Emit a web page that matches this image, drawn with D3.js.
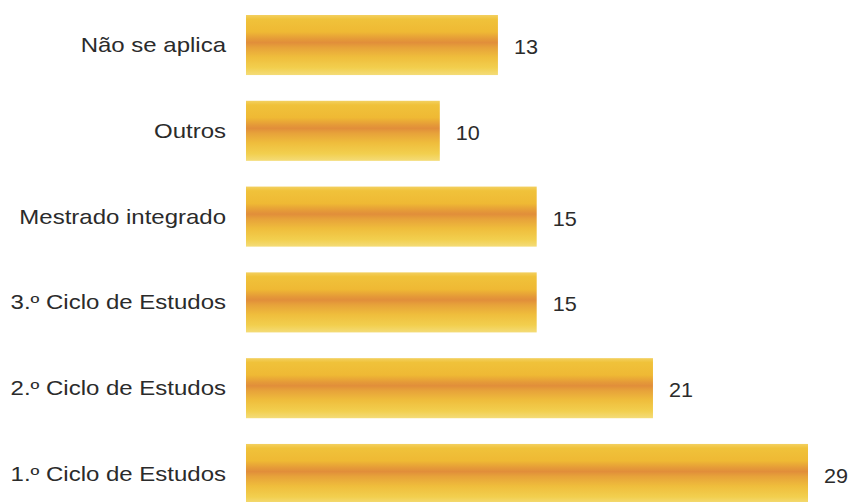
<!DOCTYPE html>
<html>
<head>
<meta charset="utf-8">
<script src="https://cdn.jsdelivr.net/npm/d3@7"></script>
<style>
  html, body { margin: 0; padding: 0; background: #fff; }
  svg { display: block; }
  text { font-family: Arial, "Liberation Sans", sans-serif; fill: #2b2b2b; }
</style>
</head>
<body>
<svg id="chart" width="852" height="502"></svg>
<script>
const categories = [
  "Não se aplica",
  "Outros",
  "Mestrado integrado",
  "3.º Ciclo de Estudos",
  "2.º Ciclo de Estudos",
  "1.º Ciclo de Estudos"
];
const values = [13, 10, 15, 15, 21, 29];

const svg = d3.select("#chart");

const x = d3.scaleLinear().domain([0, 29]).range([246, 808]);
const y = d3.scaleBand().domain(categories).range([15, 504]).paddingInner(0.3).paddingOuter(0);

// vertical gradient: yellow edges with an orange band slightly above the middle
const defs = svg.append("defs");
const grad = defs.append("linearGradient")
  .attr("id", "barGrad").attr("x1", 0).attr("y1", 0).attr("x2", 0).attr("y2", 1);
[
  [0, "#f3d060"], [0.07, "#f0c23a"], [0.28, "#efb934"], [0.4, "#e59a38"],
  [0.46, "#e18e3a"], [0.54, "#e7a23a"], [0.7, "#efbd3c"], [0.88, "#f2cf4e"], [1, "#f4dc78"]
].forEach(([o, c]) => grad.append("stop").attr("offset", o).attr("stop-color", c));

const rows = svg.append("g").selectAll("g").data(categories).join("g");

rows.append("rect")
  .attr("x", x(0))
  .attr("y", d => y(d))
  .attr("width", (d, i) => x(values[i]) - x(0))
  .attr("height", y.bandwidth())
  .attr("fill", "url(#barGrad)");

// category labels, slightly widened type
rows.append("text")
  .attr("transform", d => `translate(${x(0) - 20},${y(d) + y.bandwidth() / 2}) scale(1.2,1)`)
  .attr("dy", "0.35em")
  .attr("text-anchor", "end")
  .attr("font-size", 20)
  .text(d => d);

// value labels
rows.append("text")
  .attr("transform", (d, i) => `translate(${x(values[i]) + 16},${y(d) + y.bandwidth() / 2 + 2}) scale(1.08,1)`)
  .attr("dy", "0.35em")
  .attr("font-size", 20)
  .text((d, i) => values[i]);
</script>
</body>
</html>
